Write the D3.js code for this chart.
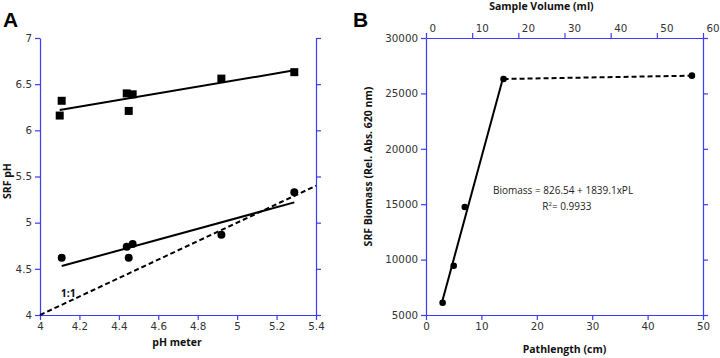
<!DOCTYPE html>
<html>
<head>
<meta charset="utf-8">
<script src="https://cdn.jsdelivr.net/npm/d3@7"></script>
<style>
  body { margin: 0; background: #fff; }
  svg { display: block; }
  .tick text { font-family: "DejaVu Sans", sans-serif; font-size: 10.3px; fill: #333; }
  .axis path, .axis line { stroke: #3b3bff; stroke-width: 1.2; }
  .title { font-family: "Open Sans", sans-serif; font-weight: bold; font-size: 10.5px; fill: #111; }
  .panel { font-family: "Liberation Sans", Arial, sans-serif; font-weight: bold; font-size: 21px; fill: #000; }
</style>
</head>
<body>
<script>
// ---- panel A data (pH) ----
const squarePhMeter = [4.10, 4.11, 4.44, 4.45, 4.47, 4.92, 5.29];
const squareSrfPh   = [6.16, 6.32, 6.40, 6.21, 6.39, 6.56, 6.63];
const circlePhMeter = [4.11, 4.44, 4.45, 4.47, 4.92, 5.29];
const circleSrfPh   = [4.62, 4.74, 4.62, 4.77, 4.87, 5.33];
const squareFitX = [4.10, 5.29];
const squareFitY = [6.22, 6.65];
const circleFitX = [4.11, 5.29];
const circleFitY = [4.53, 5.22];
const oneToOne = [4, 5.4];
const phMeterTicks = [4, 4.2, 4.4, 4.6, 4.8, 5, 5.2, 5.4];
const srfPhTicks = [4, 4.5, 5, 5.5, 6, 6.5, 7];

// ---- panel B data (biomass) ----
const pathlength = [3, 5, 7, 14, 48];
const biomass = [6100, 9450, 14750, 26300, 26600];
const fitIntercept = 826.54;
const fitSlope = 1839.1;
const fitRange = [3, 14];
const pathTicks = [0, 10, 20, 30, 40, 50];
const volumeTicks = [0, 10, 20, 30, 40, 50, 60];
const biomassTicks = [5000, 10000, 15000, 20000, 25000, 30000];

const svg = d3.select("body").append("svg").attr("width", 720).attr("height", 358);

// helper: major + minor ticks on one side
function drawAxis(axisFn, scale, major, minor, transform, showLabels, fmt) {
  const g = svg.append("g").attr("class", "axis").attr("transform", transform);
  g.call(axisFn(scale).tickValues(minor).tickSize(2.5).tickSizeOuter(0).tickFormat(""));
  g.selectAll(".domain").remove();
  g.call(axisFn(scale).tickValues(major).tickSize(5).tickSizeOuter(0)
    .tickPadding(3).tickFormat(showLabels ? fmt : ""));
  return g;
}

// ===== Panel A =====
const xA = d3.scaleLinear().domain([4, 5.4]).range([40, 316]);
const yA = d3.scaleLinear().domain([4, 7]).range([315, 38]);
const minorPhX = d3.range(4, 5.4001, 0.04);
const minorPhY = d3.range(4, 7.0001, 0.1);

drawAxis(d3.axisBottom, xA, phMeterTicks, minorPhX, "translate(0,315)", true, d3.format("~g"));
drawAxis(d3.axisLeft, yA, srfPhTicks, minorPhY, "translate(40,0)", true, d3.format("~g"));
drawAxis(d3.axisRight, yA, srfPhTicks, minorPhY, "translate(316,0)", false);

const line = d3.line();

svg.append("path")
  .attr("d", line(oneToOne.map(v => [xA(v), yA(v)])))
  .attr("fill", "none").attr("stroke", "#000").attr("stroke-width", 2).attr("stroke-dasharray", "5,3");
svg.append("path")
  .attr("d", line(squareFitX.map((v, i) => [xA(v), yA(squareFitY[i])])))
  .attr("fill", "none").attr("stroke", "#000").attr("stroke-width", 2);
svg.append("path")
  .attr("d", line(circleFitX.map((v, i) => [xA(v), yA(circleFitY[i])])))
  .attr("fill", "none").attr("stroke", "#000").attr("stroke-width", 2);

svg.selectAll("rect.sq").data(squarePhMeter).enter().append("rect")
  .attr("class", "sq")
  .attr("x", d => xA(d) - 4).attr("y", (d, i) => yA(squareSrfPh[i]) - 4)
  .attr("width", 8).attr("height", 8).attr("fill", "#000");
svg.selectAll("circle.ci").data(circlePhMeter).enter().append("circle")
  .attr("class", "ci")
  .attr("cx", d => xA(d)).attr("cy", (d, i) => yA(circleSrfPh[i]))
  .attr("r", 4).attr("fill", "#000");

svg.append("text").attr("class", "title").attr("font-size", "10px")
  .attr("x", xA(4.105)).attr("y", yA(4.19)).text("1:1");

svg.append("text").attr("class", "title").attr("text-anchor", "middle")
  .attr("x", xA(4.7) - 1).attr("y", 346).text("pH meter");
svg.append("text").attr("class", "title").attr("text-anchor", "middle")
  .attr("transform", "translate(11," + yA(5.45) + ") rotate(-90)").text("SRF pH");
svg.append("text").attr("class", "panel").attr("x", 3).attr("y", 27).text("A");

// ===== Panel B =====
const xB = d3.scaleLinear().domain([0, 50]).range([426, 703]);
const xTop = d3.scaleLinear().domain([0, 60]).range([426, 703]);
const yB = d3.scaleLinear().domain([5000, 30000]).range([315, 38]);
const minorPath = d3.range(0, 50.001, 2);
const minorVol = d3.range(0, 60.001, 2);
const minorBio = d3.range(5000, 30001, 1000);

drawAxis(d3.axisBottom, xB, pathTicks, minorPath, "translate(0,315)", true, d3.format("d"));
drawAxis(d3.axisLeft, yB, biomassTicks, minorBio, "translate(426,0)", true, d3.format("d"));
drawAxis(d3.axisRight, yB, biomassTicks, minorBio, "translate(703,0)", false);
const topG = drawAxis(d3.axisTop, xTop, volumeTicks, minorVol, "translate(0,38)", true, d3.format("d"));
topG.selectAll(".tick text").attr("text-anchor", "start").attr("x", 3).attr("y", -6);

// regression line from equation, and plateau dashed
svg.append("path")
  .attr("d", line(fitRange.map(v => [xB(v), yB(fitIntercept + fitSlope * v)])))
  .attr("fill", "none").attr("stroke", "#000").attr("stroke-width", 2);
svg.append("path")
  .attr("d", line(pathlength.slice(3).map((v, i) => [xB(v), yB(biomass[i + 3])])))
  .attr("fill", "none").attr("stroke", "#000").attr("stroke-width", 2).attr("stroke-dasharray", "5,3");

svg.selectAll("circle.bio").data(pathlength).enter().append("circle")
  .attr("class", "bio")
  .attr("cx", d => xB(d)).attr("cy", (d, i) => yB(biomass[i]))
  .attr("r", 3.3).attr("fill", "#000");

const eq = svg.append("g").attr("font-family", "'Open Sans', sans-serif").attr("font-size", "10px").attr("fill", "#222");
eq.append("text").attr("x", xB(12.1)).attr("y", yB(15930))
  .text("Biomass = " + fitIntercept + " + " + fitSlope + "xPL");
const r2 = eq.append("text").attr("x", xB(21.0)).attr("y", yB(14520));
r2.append("tspan").text("R");
r2.append("tspan").attr("font-size", "6px").attr("dy", -4).text("2");
r2.append("tspan").attr("dy", 4).text("= 0.9933");

svg.append("text").attr("class", "title").attr("text-anchor", "middle")
  .attr("x", xB(25)).attr("y", 353).text("Pathlength (cm)");
svg.append("text").attr("class", "title").attr("text-anchor", "middle")
  .attr("x", xTop(25)).attr("y", 10).text("Sample Volume (ml)");
svg.append("text").attr("class", "title").attr("text-anchor", "middle")
  .attr("transform", "translate(372," + yB(18400) + ") rotate(-90)").text("SRF Biomass (Rel. Abs. 620 nm)");
svg.append("text").attr("class", "panel").attr("x", 353).attr("y", 27).text("B");
</script>
</body>
</html>
